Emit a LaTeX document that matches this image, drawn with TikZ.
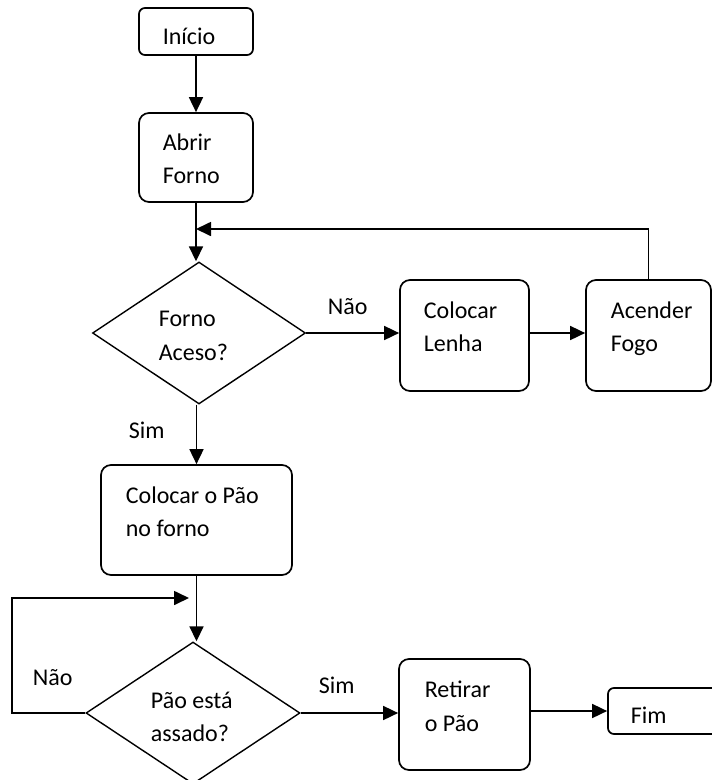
\documentclass[tikz,border=0pt]{standalone}
\usepackage{fontspec}
\setmainfont{Carlito}
\usetikzlibrary{shapes.geometric,arrows.meta}
\begin{document}
\begin{tikzpicture}[x=1pt,y=-1pt,
  line width=1.7pt,
  box/.style={draw,rounded corners=10pt,inner sep=0pt,line width=1.7pt},
  sbox/.style={draw,rounded corners=6pt,inner sep=0pt,line width=1.7pt},
  dia/.style={draw,diamond,inner sep=0pt,shape aspect=1.5,line width=1.4pt},
  txt/.style={anchor=base west,inner sep=0pt,font=\fontsize{24}{33}\selectfont},
  arr/.style={-{Triangle[length=15pt,width=14pt]}}]
\fill[white] (0,0) rectangle (712,780);
\clip (0,0) rectangle (712,780);
\useasboundingbox (0,0) rectangle (712,780);
% boxes
\node[sbox,minimum width=114pt,minimum height=47pt] (inicio) at (196,31.5) {};
\node[box,minimum width=114pt,minimum height=89pt] (abrir) at (196,157.5) {};
\node[dia,minimum width=213pt,minimum height=142pt] (d1) at (199,333) {};
\node[box,minimum width=129pt,minimum height=111pt] (lenha) at (464.5,335.5) {};
\node[box,minimum width=125pt,minimum height=111pt] (acender) at (648.5,335.5) {};
\node[box,minimum width=191pt,minimum height=110pt] (paoin) at (196.5,520) {};
\node[dia,minimum width=214pt,minimum height=142pt] (d2) at (193,713) {};
\node[box,minimum width=131pt,minimum height=111pt] (retirar) at (464.5,714.5) {};
\node[sbox,minimum width=122pt,minimum height=46pt] (fim) at (669,711) {};
% texts
\node[txt] (t1) at (162,44) {Início};
\node[txt] (t2) at (162,150) {Abrir};
\node[txt] (t3) at (162,183) {Forno};
\node[txt] (t4) at (158,326) {Forno};
\node[txt] (t5) at (158,360) {Aceso?};
\node[txt] (t6) at (327,314) {Não};
\node[txt] (t7) at (423,318) {Colocar};
\node[txt] (t8) at (423,351) {Lenha};
\node[txt] (t9) at (610,318) {Acender};
\node[txt] (t10) at (610,351) {Fogo};
\node[txt] (t11) at (128,438) {Sim};
\node[txt] (t12) at (125,503) {Colocar o Pão};
\node[txt] (t13) at (125,536) {no forno};
\node[txt] (t14) at (32,685) {Não};
\node[txt] (t15) at (150,708) {Pão está};
\node[txt] (t16) at (150,741) {assado?};
\node[txt] (t17) at (318,693) {Sim};
\node[txt] (t18) at (424,697) {Retirar};
\node[txt] (t19) at (424,731) {o Pão};
\node[txt] (t20) at (630,723) {Fim};
% connectors
\coordinate (m1) at (196,229);
\coordinate (c1) at (12,713);
\coordinate (c2) at (12,598);
\coordinate (m2) at (189,598);
\draw[arr] (inicio.south) -- (abrir.north);
\draw[arr] (abrir.south) -- (abrir.south |- d1.north);
\draw[arr] (acender.north) |- (m1);
\draw[arr] (d1.east) -- (d1.east -| lenha.west);
\draw[arr] (lenha.east |- d1.east) -- (acender.west |- d1.east);
\draw[arr] (d1.south -| paoin.north) -- (paoin.north);
\draw[arr] (paoin.south) -- (paoin.south |- d2.north);
\draw[arr] (d2.west) -- (c1) -- (c2) -- (m2);
\draw[arr] (d2.east) -- (d2.east -| retirar.west);
\draw[arr] (retirar.east |- fim.west) -- (fim.west);
\end{tikzpicture}
\end{document}
